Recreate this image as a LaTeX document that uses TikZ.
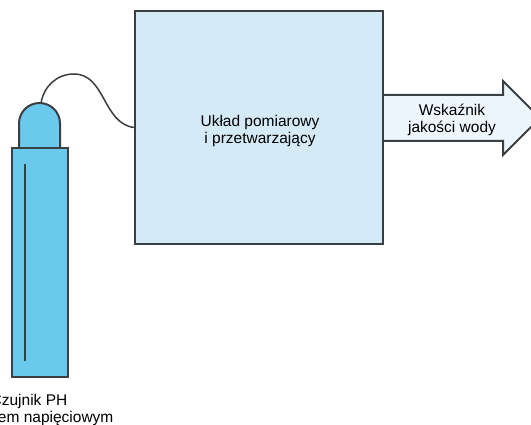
\documentclass[tikz,border=0pt]{standalone}
\usepackage{fontspec}
\setmainfont{Liberation Sans}
\definecolor{ramka}{HTML}{3A3F44}
\definecolor{sonda}{HTML}{6CC9EE}
\definecolor{uklad}{HTML}{D5EAF7}
\definecolor{strzalka}{HTML}{EDF6FC}
\begin{document}
\begin{tikzpicture}[x=1pt,y=-1pt]
    \tikzstyle{every node}=[font=\fontsize{15.5}{17.5}\selectfont,align=center,inner sep=0pt];
    \tikzstyle{obrys}=[draw=ramka,line width=2pt];
    \useasboundingbox (0,0) rectangle (531,425);
    % czujnik
    \draw[obrys,fill=sonda] (19,150) -- (19,123.5) to[out=90,in=180] (39.5,103) to[out=0,in=90] (60,123.5) -- (60,150);
    \node[obrys,fill=sonda,minimum width=56pt,minimum height=229pt] at (40.3,262.5) (korpus) {};
    \draw[ramka,line width=1.6pt] (25,164) -- (25,361);
    \coordinate (kopula) at (41,103);
    % uklad
    \node[obrys,line width=2.4pt,fill=uklad,minimum width=248pt,minimum height=233pt] at (259,127.5) (uklad) {};
    \node at (260,131) (opis) {Układ pomiarowy\\ i przetwarzający};
    \draw[ramka,line width=1.5pt] (kopula) to[out=80,in=180] (74,74) to[out=0,in=172] (uklad.west);
    % wyjscie
    \draw[obrys,fill=strzalka] (uklad.east |- 0,95) -- (503,95) -- (503,81) -- (540,118) -- (503,155) -- (503,141) -- (uklad.east |- 0,141);
    \node at (452,120) (wskaznik) {Wskaźnik\\jakości wody};
    \node at (29,410) (czujnik) {Czujnik PH\\z wyjściem napięciowym};
\end{tikzpicture}
\end{document}
